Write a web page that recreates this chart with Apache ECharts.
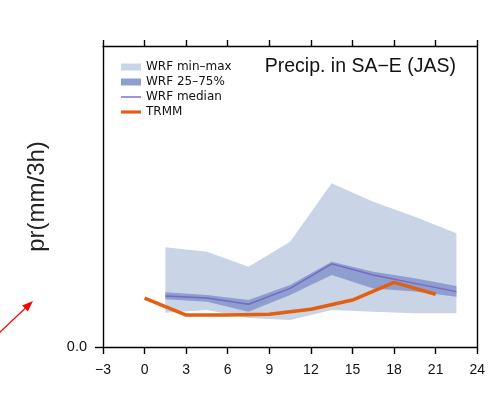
<!DOCTYPE html>
<html>
<head>
<meta charset="utf-8">
<script src="https://cdn.jsdelivr.net/npm/echarts@6/dist/echarts.min.js"></script>
<style>html,body{margin:0;padding:0;background:#fff;}#c{width:488px;height:398px;}</style>
</head>
<body>
<div id="c"></div>
<script>
// ---- data (y in mm/3h, arbitrary scale as the axis shows only 0.0) ----
const wrfHours  = [1.5, 4.5, 7.5, 10.5, 13.5, 16.5, 19.5, 22.5];
const wrfMin    = [0.171, 0.184, 0.145, 0.135, 0.184, 0.176, 0.168, 0.168];
const wrfMax    = [0.497, 0.475, 0.400, 0.525, 0.816, 0.724, 0.649, 0.567];
const wrfQ25    = [0.238, 0.226, 0.176, 0.259, 0.359, 0.292, 0.276, 0.251];
const wrfQ75    = [0.273, 0.259, 0.234, 0.309, 0.425, 0.375, 0.342, 0.304];
const wrfMedian = [0.254, 0.244, 0.213, 0.292, 0.414, 0.359, 0.317, 0.276];
const trmmHours = [0, 3, 6, 9, 12, 15, 18, 21];
const trmm      = [0.243, 0.159, 0.159, 0.163, 0.188, 0.234, 0.322, 0.263];
const xTickLabels = [-3, 0, 3, 6, 9, 12, 15, 18, 21, 24];
const yTickLabels = [0];
const seriesNames = ['WRF min\u2013max', 'WRF 25\u201375%', 'WRF median', 'TRMM'];
const titleText = 'Precip. in SA\u2212E (JAS)';
const yName = 'pr(mm/3h)';

const C_MINMAX = '#c9d4e6';
const C_IQR = '#8e9ecf';
const C_MED = '#7468c4';
const C_TRMM = '#e2600f';
const FONT = 'Liberation Sans, Arial, sans-serif';

function bandRender(params, api) {
  if (params.dataIndex !== 0) return null;
  const n = params.dataInsideLength;
  const top = [], bot = [];
  for (let i = 0; i < n; i++) {
    top.push(api.coord([api.value(0, i), api.value(2, i)]));
    bot.push(api.coord([api.value(0, i), api.value(1, i)]));
  }
  const pts = top.concat(bot.reverse());
  return {
    type: 'polygon',
    shape: { points: pts },
    style: { fill: api.visual('color') }
  };
}

const bandData = (lo, hi) => wrfHours.map((h, i) => [h, lo[i], hi[i]]);

const chart = echarts.init(document.getElementById('c'), null, { renderer: 'canvas' });
chart.setOption({
  animation: false,
  backgroundColor: '#fff',
  textStyle: { fontFamily: FONT },
  grid: { left: 103, right: 6, top: 46, bottom: 51, containLabel: false },
  title: {
    text: titleText, right: 27, top: 52,
    textStyle: { fontFamily: FONT, fontSize: 19.5, fontWeight: 'normal', color: '#111' }
  },
  legend: {
    orient: 'vertical', left: 116, top: 56,
    itemWidth: 20, itemHeight: 7, itemGap: 3,
    textStyle: { fontFamily: 'DejaVu Sans, sans-serif', fontSize: 12, lineHeight: 12, color: '#111' },
    selectedMode: false,
    data: [
      { name: seriesNames[0], icon: 'rect', itemStyle: { color: C_MINMAX } },
      { name: seriesNames[1], icon: 'rect', itemStyle: { color: C_IQR } },
      { name: seriesNames[2], icon: 'path://M0,0h20v1.4h-20z', itemStyle: { color: C_MED } },
      { name: seriesNames[3], icon: 'path://M0,0h20v3.2h-20z', itemStyle: { color: C_TRMM } }
    ]
  },
  xAxis: [
    {
      type: 'value', position: 'bottom', min: -3, max: 24, interval: 3,
      axisLine: { show: true, onZero: false, lineStyle: { color: '#000', width: 1.4 } },
      axisTick: { show: true, inside: false, length: 7, lineStyle: { color: '#000', width: 1.4 } },
      axisLabel: {
        show: true, margin: 16, fontSize: 14, color: '#111', fontFamily: FONT,
        customValues: xTickLabels,
        formatter: v => String(v).replace('-', '\u2212')
      },
      splitLine: { show: false }
    },
    {
      type: 'value', position: 'top', min: -3, max: 24, interval: 3,
      axisLine: { show: true, onZero: false, lineStyle: { color: '#000', width: 1.4 } },
      axisTick: { show: true, inside: false, length: 6, lineStyle: { color: '#000', width: 1.4 } },
      axisLabel: { show: false },
      splitLine: { show: false }
    }
  ],
  yAxis: [
    {
      type: 'value', position: 'left', min: 0, max: 1.5,
      name: yName, nameLocation: 'middle', nameGap: 54, nameRotate: 90,
      nameTextStyle: { fontFamily: FONT, fontSize: 24, color: '#222' },
      axisLine: { show: true, onZero: false, lineStyle: { color: '#000', width: 1.4 } },
      axisTick: { show: true, length: 8, customValues: yTickLabels, lineStyle: { color: '#000', width: 1.4 } },
      axisLabel: { show: true, margin: 16, fontSize: 14.5, color: '#111', fontFamily: FONT,
        customValues: yTickLabels, formatter: v => v.toFixed(1) },
      splitLine: { show: false }
    },
    {
      type: 'value', position: 'right', min: 0, max: 1.5,
      axisLine: { show: true, onZero: false, lineStyle: { color: '#000', width: 1.4 } },
      axisTick: { show: false }, axisLabel: { show: false }, splitLine: { show: false }
    }
  ],
  series: [
    {
      name: seriesNames[0], type: 'custom', renderItem: bandRender, clip: true,
      itemStyle: { color: C_MINMAX }, encode: { x: 0, y: [1, 2] },
      data: bandData(wrfMin, wrfMax), z: 1, silent: true
    },
    {
      name: seriesNames[1], type: 'custom', renderItem: bandRender, clip: true,
      itemStyle: { color: C_IQR }, encode: { x: 0, y: [1, 2] },
      data: bandData(wrfQ25, wrfQ75), z: 2, silent: true
    },
    {
      name: seriesNames[2], type: 'line', showSymbol: false, symbol: 'none',
      lineStyle: { color: C_MED, width: 1.4 }, itemStyle: { color: C_MED },
      data: wrfHours.map((h, i) => [h, wrfMedian[i]]), z: 3, silent: true
    },
    {
      name: seriesNames[3], type: 'line', showSymbol: false, symbol: 'none',
      lineStyle: { color: C_TRMM, width: 3.5 }, itemStyle: { color: C_TRMM },
      data: trmmHours.map((h, i) => [h, trmm[i]]), z: 4, silent: true
    }
  ],
  graphic: [
    { type: 'line', shape: { x1: -2, y1: 334, x2: 25, y2: 308.5 }, style: { stroke: '#f00', lineWidth: 1.2 } },
    { type: 'polygon', shape: { points: [[33, 301], [27.8, 311.6], [22.2, 305.4]] }, style: { fill: '#f00' } }
  ]
});
</script>
</body>
</html>
